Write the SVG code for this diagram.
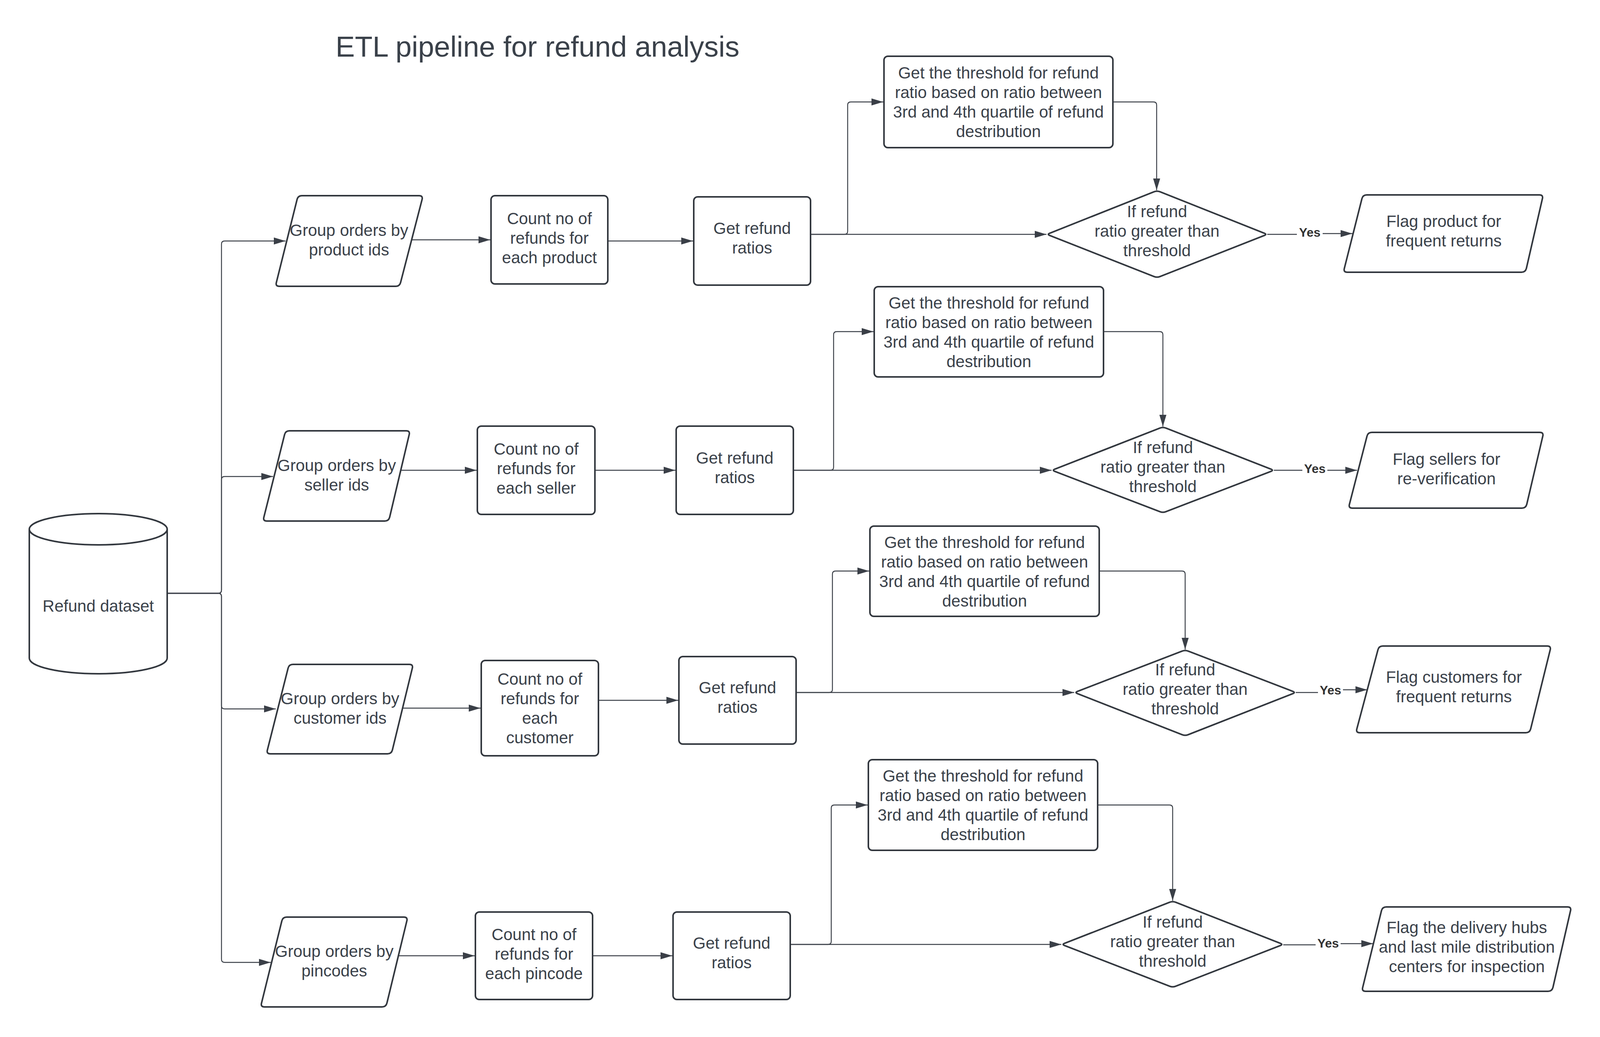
<svg xmlns="http://www.w3.org/2000/svg" width="4101" height="2655" viewBox="0 0 4101 2655">
<style>
.s{fill:#fff;stroke:#32373e;stroke-width:4;stroke-linejoin:round}
.t{font-family:"Liberation Sans",Arial,sans-serif;font-size:42px;fill:#3a414a;text-anchor:middle}
.ti{font-family:"Liberation Sans",Arial,sans-serif;font-size:74px;fill:#3a414a;text-anchor:middle}
.c{fill:none;stroke:#3a3f47;stroke-width:2.4}
.a{marker-end:url(#ah)}
.y{font-family:"Liberation Sans",Arial,sans-serif;font-size:32px;font-weight:bold;fill:#333;text-anchor:middle}
</style>
<defs>
<marker id="ah" markerUnits="userSpaceOnUse" markerWidth="30" markerHeight="18" refX="30" refY="9" orient="auto">
<path d="M0,0 L30,9 L0,18 Z" fill="#3a3f47"/>
</marker>
</defs>
<rect width="4101" height="2655" fill="#fff"/>
<text id="title" class="ti" x="1376" y="145">ETL pipeline for refund analysis</text>

<g id="connectors">
<path class="c a" d="M428,1519 H559 Q567,1519 567,1511 V625 Q567,617 575,617 H731"/>
<path class="c a" d="M428,1519 H559 Q567,1519 567,1511 V1228 Q567,1220 575,1220 H699"/>
<path class="c a" d="M428,1519 H559 Q567,1519 567,1527 V1807 Q567,1815 575,1815 H706"/>
<path class="c a" d="M428,1519 H559 Q567,1519 567,1527 V2456 Q567,2464 575,2464 H693"/>

<path class="c a" d="M1054,614 H1255"/>
<path class="c a" d="M1556,617 H1774"/>
<path class="c a" d="M2075,600 H2679"/>
<path class="c a" d="M2075,600 H2162 Q2170,600 2170,592 V269 Q2170,261 2178,261 H2261"/>
<path class="c a" d="M2849,261 H2953 Q2961,261 2961,269 V487"/>
<path class="c" d="M3244,600 H3320"/>
<path class="c a" d="M3386,598 H3462"/>

<path class="c a" d="M1026,1204 H1220"/>
<path class="c a" d="M1523,1204 H1729"/>
<path class="c a" d="M2031,1204 H2692"/>
<path class="c a" d="M2031,1204 H2126 Q2134,1204 2134,1196 V857 Q2134,849 2142,849 H2236"/>
<path class="c a" d="M2825,849 H2969 Q2977,849 2977,857 V1092"/>
<path class="c" d="M3261,1204 H3334"/>
<path class="c a" d="M3398,1204 H3474"/>

<path class="c a" d="M1031,1813 H1230"/>
<path class="c a" d="M1532,1793 H1736"/>
<path class="c a" d="M2038,1773 H2750"/>
<path class="c a" d="M2038,1773 H2123 Q2131,1773 2131,1765 V1470 Q2131,1462 2139,1462 H2225"/>
<path class="c a" d="M2814,1462 H3026 Q3034,1462 3034,1470 V1663"/>
<path class="c" d="M3317,1773 H3374"/>
<path class="c a" d="M3438,1766 H3500"/>

<path class="c a" d="M1020,2447 H1215"/>
<path class="c a" d="M1517,2447 H1721"/>
<path class="c a" d="M2023,2418 H2717"/>
<path class="c a" d="M2023,2418 H2120 Q2128,2418 2128,2410 V2069 Q2128,2061 2136,2061 H2221"/>
<path class="c a" d="M2810,2061 H2994 Q3002,2061 3002,2069 V2306"/>
<path class="c" d="M3285,2419 H3368"/>
<path class="c a" d="M3432,2416 H3515"/>

<text class="y" x="3353" y="606">Yes</text>
<text class="y" x="3366" y="1211">Yes</text>
<text class="y" x="3406" y="1778">Yes</text>
<text class="y" x="3400" y="2426">Yes</text>
</g>

<g id="refund-dataset">
<path class="s" d="M75,1355 A176.5,40 0 0 1 428,1355 V1685 A176.5,40 0 0 1 75,1685 Z"/>
<path class="s" fill="none" d="M75,1355 A176.5,40 0 0 0 428,1355"/>
<text class="t" x="251.5" y="1566">Refund dataset</text>
</g>

<g id="group-product">
<path class="s" d="M773,501 H1073 Q1083,501 1080.5,510.7 L1025.5,723.3 Q1023,733 1013,733 H715 Q705,733 707.5,723.3 L760.5,510.7 Q763,501 773,501 Z"/>
<text class="t"><tspan x="893.5" y="604">Group orders by</tspan><tspan x="893.5" y="654">product ids</tspan></text>
</g>
<g id="count-product">
<rect class="s" x="1257" y="501" width="299" height="226" rx="10"/>
<text class="t"><tspan x="1406.5" y="574">Count no of</tspan><tspan x="1406.5" y="624">refunds for</tspan><tspan x="1406.5" y="674">each product</tspan></text>
</g>
<g id="ratio-product">
<rect class="s" x="1776" y="504" width="299" height="226" rx="10"/>
<text class="t"><tspan x="1925.5" y="599">Get refund</tspan><tspan x="1925.5" y="649">ratios</tspan></text>
</g>
<g id="threshold-product">
<rect class="s" x="2263" y="144" width="586" height="234" rx="10"/>
<text class="t"><tspan x="2556" y="201">Get the threshold for refund</tspan><tspan x="2556" y="251">ratio based on ratio between</tspan><tspan x="2556" y="301">3rd and 4th quartile of refund</tspan><tspan x="2556" y="351">destribution</tspan></text>
</g>
<g id="decision-product">
<path class="s" d="M2687.4,597.1 L2954.6,490.9 Q2962,488 2969.4,490.9 L3236.6,597.1 Q3244,600 3236.6,602.9 L2969.4,708.1 Q2962,711 2954.6,708.1 L2687.4,602.9 Q2680,600 2687.4,597.1 Z"/>
<text class="t"><tspan x="2962" y="556">If refund</tspan><tspan x="2962" y="606">ratio greater than</tspan><tspan x="2962" y="656">threshold</tspan></text>
</g>
<g id="flag-product">
<path class="s" d="M3499,499 H3941 Q3951,499 3948.5,508.7 L3907.5,687.3 Q3905,697 3895,697 H3449 Q3439,697 3441.5,687.3 L3486.5,508.7 Q3489,499 3499,499 Z"/>
<text class="t"><tspan x="3696" y="581">Flag product for</tspan><tspan x="3696" y="631">frequent returns</tspan></text>
</g>

<g id="group-seller">
<path class="s" d="M741,1103 H1040 Q1050,1103 1047.5,1112.7 L997.5,1324.3 Q995,1334 985,1334 H683 Q673,1334 675.5,1324.3 L728.5,1112.7 Q731,1103 741,1103 Z"/>
<text class="t"><tspan x="862" y="1206">Group orders by</tspan><tspan x="862" y="1256">seller ids</tspan></text>
</g>
<g id="count-seller">
<rect class="s" x="1222" y="1091" width="301" height="226" rx="10"/>
<text class="t"><tspan x="1372.5" y="1164">Count no of</tspan><tspan x="1372.5" y="1214">refunds for</tspan><tspan x="1372.5" y="1264">each seller</tspan></text>
</g>
<g id="ratio-seller">
<rect class="s" x="1731" y="1091" width="300" height="226" rx="10"/>
<text class="t"><tspan x="1881" y="1187">Get refund</tspan><tspan x="1881" y="1237">ratios</tspan></text>
</g>
<g id="threshold-seller">
<rect class="s" x="2238" y="734" width="587" height="231" rx="10"/>
<text class="t"><tspan x="2531.5" y="790">Get the threshold for refund</tspan><tspan x="2531.5" y="840">ratio based on ratio between</tspan><tspan x="2531.5" y="890">3rd and 4th quartile of refund</tspan><tspan x="2531.5" y="940">destribution</tspan></text>
</g>
<g id="decision-seller">
<path class="s" d="M2700.4,1201.1 L2969.6,1095.9 Q2977,1093 2984.4,1095.9 L3253.6,1201.1 Q3261,1204 3253.6,1206.9 L2984.4,1310.1 Q2977,1313 2969.6,1310.1 L2700.4,1206.9 Q2693,1204 2700.4,1201.1 Z"/>
<text class="t"><tspan x="2977" y="1160">If refund</tspan><tspan x="2977" y="1210">ratio greater than</tspan><tspan x="2977" y="1260">threshold</tspan></text>
</g>
<g id="flag-seller">
<path class="s" d="M3512,1107 H3942 Q3952,1107 3949.5,1116.7 L3908.5,1291.3 Q3906,1301 3896,1301 H3462 Q3452,1301 3454.5,1291.3 L3499.5,1116.7 Q3502,1107 3512,1107 Z"/>
<text class="t"><tspan x="3703" y="1190">Flag sellers for</tspan><tspan x="3703" y="1240">re-verification</tspan></text>
</g>

<g id="group-customer">
<path class="s" d="M750,1701 H1048 Q1058,1701 1055.5,1710.7 L1004.5,1920.3 Q1002,1930 992,1930 H692 Q682,1930 684.5,1920.3 L737.5,1710.7 Q740,1701 750,1701 Z"/>
<text class="t"><tspan x="870.5" y="1803">Group orders by</tspan><tspan x="870.5" y="1853">customer ids</tspan></text>
</g>
<g id="count-customer">
<rect class="s" x="1232" y="1691" width="300" height="244" rx="10"/>
<text class="t"><tspan x="1382" y="1753">Count no of</tspan><tspan x="1382" y="1803">refunds for</tspan><tspan x="1382" y="1853">each</tspan><tspan x="1382" y="1903">customer</tspan></text>
</g>
<g id="ratio-customer">
<rect class="s" x="1738" y="1681" width="300" height="224" rx="10"/>
<text class="t"><tspan x="1888" y="1775">Get refund</tspan><tspan x="1888" y="1825">ratios</tspan></text>
</g>
<g id="threshold-customer">
<rect class="s" x="2227" y="1347" width="587" height="231" rx="10"/>
<text class="t"><tspan x="2520.5" y="1403">Get the threshold for refund</tspan><tspan x="2520.5" y="1453">ratio based on ratio between</tspan><tspan x="2520.5" y="1503">3rd and 4th quartile of refund</tspan><tspan x="2520.5" y="1553">destribution</tspan></text>
</g>
<g id="decision-customer">
<path class="s" d="M2758.4,1770.1 L3026.6,1666.9 Q3034,1664 3041.4,1666.9 L3309.6,1770.1 Q3317,1773 3309.6,1775.9 L3041.4,1881.1 Q3034,1884 3026.6,1881.1 L2758.4,1775.9 Q2751,1773 2758.4,1770.1 Z"/>
<text class="t"><tspan x="3034" y="1729">If refund</tspan><tspan x="3034" y="1779">ratio greater than</tspan><tspan x="3034" y="1829">threshold</tspan></text>
</g>
<g id="flag-customer">
<path class="s" d="M3540,1654 H3961 Q3971,1654 3968.5,1663.7 L3918.5,1866.3 Q3916,1876 3906,1876 H3481 Q3471,1876 3473.5,1866.3 L3527.5,1663.7 Q3530,1654 3540,1654 Z"/>
<text class="t"><tspan x="3722" y="1748">Flag customers for</tspan><tspan x="3722" y="1798">frequent returns</tspan></text>
</g>

<g id="group-pincode">
<path class="s" d="M734,2348 H1034 Q1044,2348 1041.5,2357.7 L990.5,2568.3 Q988,2578 978,2578 H677 Q667,2578 669.5,2568.3 L721.5,2357.7 Q724,2348 734,2348 Z"/>
<text class="t"><tspan x="855.75" y="2450">Group orders by</tspan><tspan x="855.75" y="2500">pincodes</tspan></text>
</g>
<g id="count-pincode">
<rect class="s" x="1217" y="2335" width="300" height="224" rx="10"/>
<text class="t"><tspan x="1367" y="2407">Count no of</tspan><tspan x="1367" y="2457">refunds for</tspan><tspan x="1367" y="2507">each pincode</tspan></text>
</g>
<g id="ratio-pincode">
<rect class="s" x="1723" y="2335" width="300" height="224" rx="10"/>
<text class="t"><tspan x="1873" y="2429">Get refund</tspan><tspan x="1873" y="2479">ratios</tspan></text>
</g>
<g id="threshold-pincode">
<rect class="s" x="2223" y="1945" width="587" height="232" rx="10"/>
<text class="t"><tspan x="2516.5" y="2001">Get the threshold for refund</tspan><tspan x="2516.5" y="2051">ratio based on ratio between</tspan><tspan x="2516.5" y="2101">3rd and 4th quartile of refund</tspan><tspan x="2516.5" y="2151">destribution</tspan></text>
</g>
<g id="decision-pincode">
<path class="s" d="M2725.4,2415.1 L2994.6,2309.9 Q3002,2307 3009.4,2309.9 L3277.6,2415.1 Q3285,2418 3277.6,2420.9 L3009.4,2525.1 Q3002,2528 2994.6,2525.1 L2725.4,2420.9 Q2718,2418 2725.4,2415.1 Z"/>
<text class="t"><tspan x="3002" y="2375">If refund</tspan><tspan x="3002" y="2425">ratio greater than</tspan><tspan x="3002" y="2475">threshold</tspan></text>
</g>
<g id="flag-pincode">
<path class="s" d="M3549,2322 H4013 Q4023,2322 4020.5,2331.7 L3975.5,2528.3 Q3973,2538 3963,2538 H3496 Q3486,2538 3488.5,2528.3 L3536.5,2331.7 Q3539,2322 3549,2322 Z"/>
<text class="t"><tspan x="3755" y="2389">Flag the delivery hubs</tspan><tspan x="3755" y="2439">and last mile distribution</tspan><tspan x="3755" y="2489">centers for inspection</tspan></text>
</g>
</svg>
